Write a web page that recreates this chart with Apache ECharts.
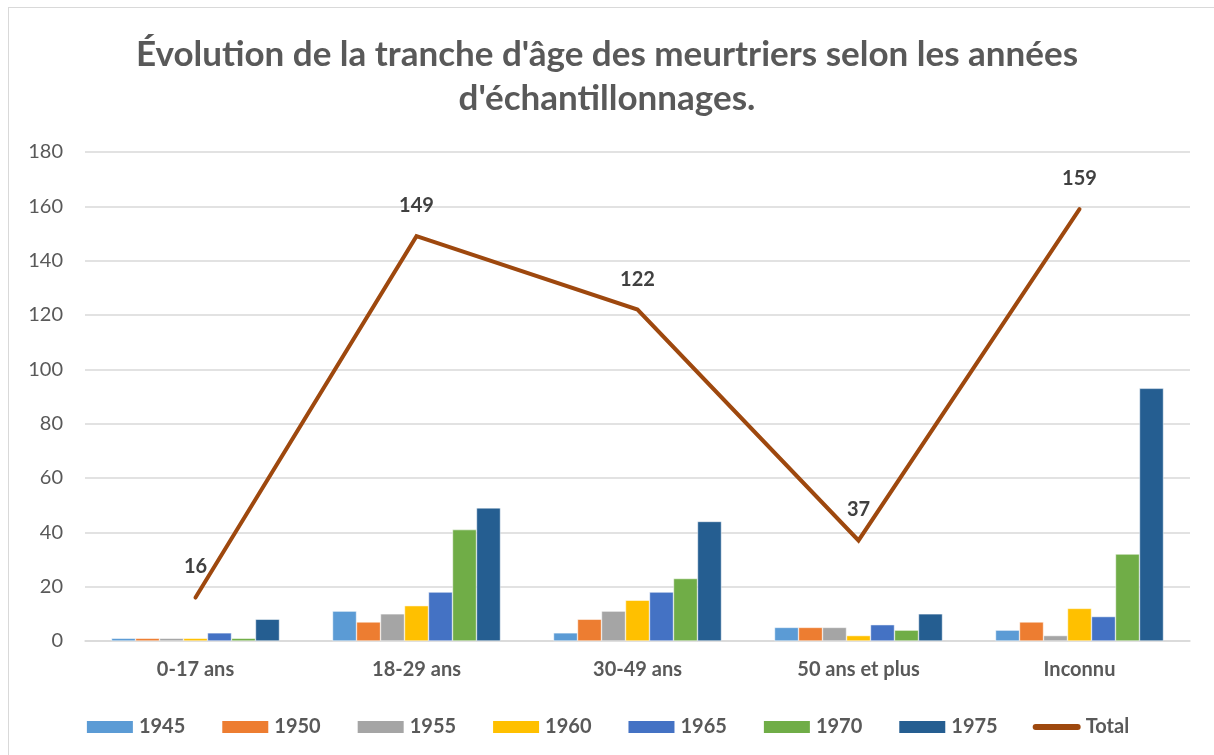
<!DOCTYPE html>
<html>
<head>
<meta charset="utf-8">
<script src="https://cdn.jsdelivr.net/npm/echarts@6/dist/echarts.min.js"></script>
<style>
html,body{margin:0;padding:0;background:#fff;}
#frame{position:absolute;left:8px;top:7px;width:1300px;height:900px;border:1px solid #d9d9d9;box-sizing:border-box;}
#chart{position:absolute;left:0;top:0;width:1214px;height:755px;}
</style>
</head>
<body>
<div id="frame"></div>
<div id="chart"></div>
<script>
const categories = ['0-17 ans', '18-29 ans', '30-49 ans', '50 ans et plus', 'Inconnu'];
const years = ['1945', '1950', '1955', '1960', '1965', '1970', '1975'];
const v1945 = [1, 11, 3, 5, 4];
const v1950 = [1, 7, 8, 5, 7];
const v1955 = [1, 10, 11, 5, 2];
const v1960 = [1, 13, 15, 2, 12];
const v1965 = [3, 18, 18, 6, 9];
const v1970 = [1, 41, 23, 4, 32];
const v1975 = [8, 49, 44, 10, 93];
const total = [16, 149, 122, 37, 159];
const yTicks = [0, 20, 40, 60, 80, 100, 120, 140, 160, 180];

const barValues = [v1945, v1950, v1955, v1960, v1965, v1970, v1975];
const colors = ['#5B9BD5', '#ED7D31', '#A5A5A5', '#FFC000', '#4472C4', '#70AD47', '#255E91'];
const FONT = 'Lato, "Open Sans", sans-serif';

const series = years.map((y, i) => ({
  name: y,
  type: 'bar',
  data: barValues[i],
  barGap: '0%',
  barCategoryGap: '24%',
  itemStyle: { color: colors[i], borderColor: '#ffffff', borderWidth: 0.5 }
}));
series.push({
  name: 'Total',
  type: 'line',
  data: total,
  symbol: 'circle',
  symbolSize: 1,
  showSymbol: true,
  lineStyle: { color: '#9E480E', width: 4, cap: 'round', join: 'miter' },
  itemStyle: { color: '#9E480E' },
  label: {
    show: true, position: 'top', distance: 20,
    fontFamily: FONT, fontWeight: 'bold', fontSize: 20, color: '#404040'
  },
  z: 5
});

const chart = echarts.init(document.getElementById('chart'));
chart.setOption({
  animation: false,
  title: {
    text: "Évolution de la tranche d'âge des meurtriers selon les années\nd'échantillonnages.",
    left: 'center',
    top: 28,
    textStyle: { fontFamily: FONT, fontWeight: 'bold', fontSize: 35, color: '#595959', lineHeight: 44 }
  },
  legend: {
    bottom: 13,
    left: 'center',
    itemWidth: 48,
    itemHeight: 14,
    itemGap: 35,
    textStyle: { fontFamily: FONT, fontWeight: 'bold', fontSize: 20, color: '#595959' },
    data: years.map(y => ({ name: y, icon: 'rect' })).concat([{
      name: 'Total',
      icon: 'path://M3,0 L45,0 A3,3 0 0 1 45,6 L3,6 A3,3 0 0 1 3,0 Z'
    }])
  },
  grid: { left: 85, right: 24, top: 152, bottom: 114, containLabel: false },
  xAxis: {
    type: 'category',
    data: categories,
    axisLine: { lineStyle: { color: '#d9d9d9', width: 1.5 } },
    axisTick: { show: false },
    axisLabel: { fontFamily: FONT, fontWeight: 'bold', fontSize: 20, color: '#595959', margin: 19 }
  },
  yAxis: {
    type: 'value',
    min: 0, max: 180, interval: 20,
    axisLine: { show: false },
    axisTick: { show: false },
    splitLine: { lineStyle: { color: '#d9d9d9', width: 1.5 } },
    axisLabel: { fontFamily: FONT, fontSize: 20, color: '#595959', margin: 22,
      formatter: v => yTicks.includes(v) ? String(v) : '' }
  },
  series: series
});
</script>
</body>
</html>
